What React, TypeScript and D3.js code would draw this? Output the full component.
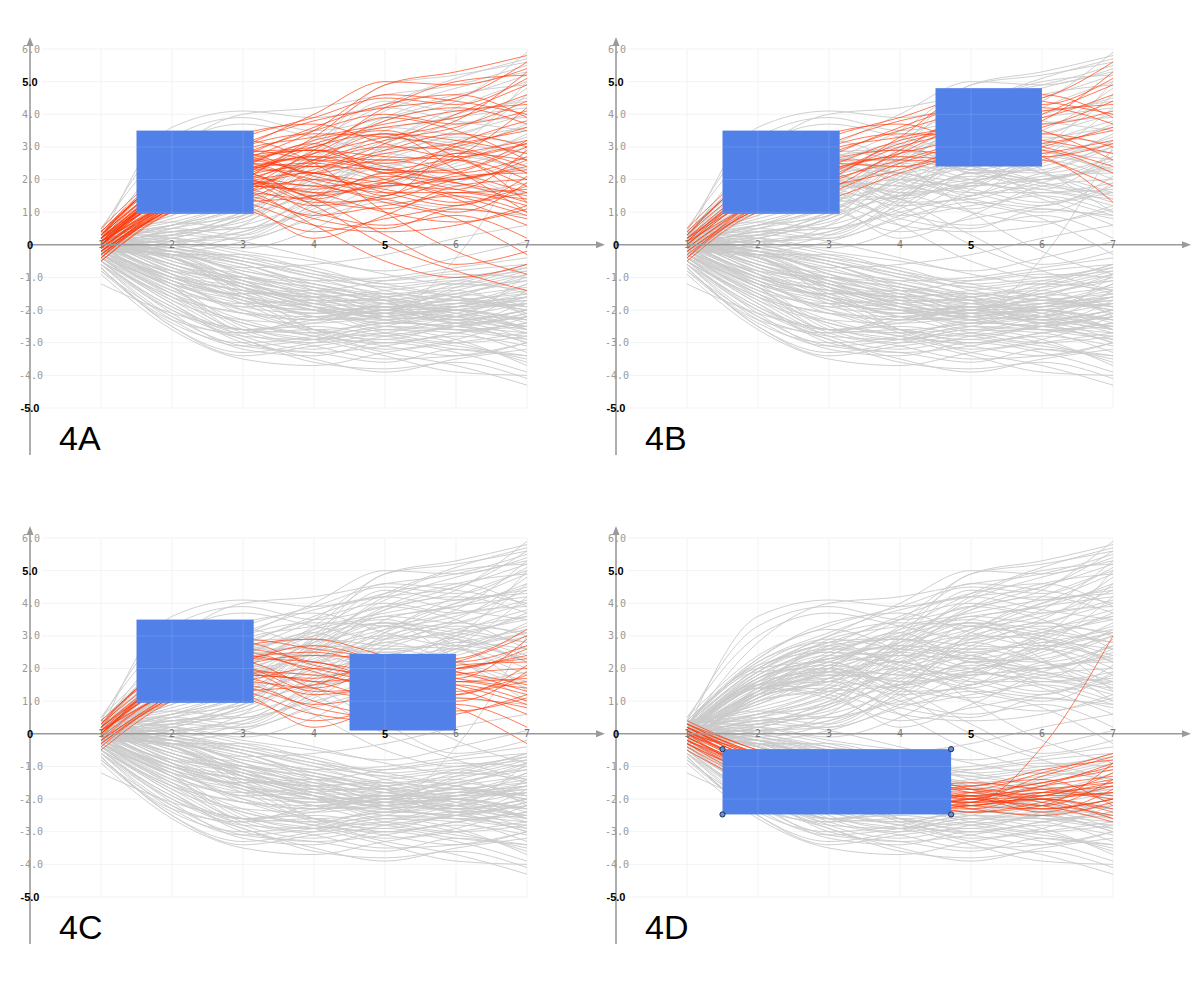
import React, { useEffect, useRef } from "react";
import * as d3 from "d3";

// time steps shared by every series
const xs = [1, 2, 3, 4, 5, 6, 7];

// climbs into the early box and stays high (upper late box)
const riseHigh = [
  [0.2, 1.6, 2.4, 3.2, 3.6, 3.9, 4.6],
  [-0.1, 1.3, 2.1, 3.0, 3.4, 3.2, 2.8],
  [0.4, 2.2, 3.1, 3.8, 4.2, 4.5, 5.6],
  [-0.3, 1.1, 1.6, 2.5, 3.0, 2.9, 2.2],
  [0.1, 1.8, 2.6, 2.9, 2.7, 2.6, 1.3],
  [0.3, 2.0, 2.8, 3.5, 4.0, 3.7, 4.1],
  [-0.5, 1.0, 1.4, 2.2, 2.8, 3.1, 3.5],
  [0.0, 1.5, 2.0, 2.6, 3.2, 3.6, 4.4],
  [0.2, 1.9, 3.0, 3.4, 3.3, 3.0, 2.4],
  [-0.2, 1.2, 1.9, 2.8, 3.8, 4.2, 3.7],
  [0.5, 2.4, 3.3, 3.9, 4.5, 4.3, 5.1],
  [-0.4, 1.4, 2.3, 2.7, 2.6, 2.8, 3.2],
  [0.1, 1.7, 2.2, 3.1, 3.5, 2.7, 1.8],
  [0.3, 2.1, 2.5, 2.4, 2.9, 3.4, 3.0],
  [-0.1, 1.3, 1.8, 2.3, 3.1, 4.0, 4.9],
  [0.0, 1.6, 2.7, 3.6, 4.3, 4.6, 3.9],
  [0.1, 1.4, 2.9, 3.3, 3.7, 4.1, 4.3],
  [-0.2, 1.1, 1.7, 2.9, 3.9, 3.5, 2.6],
  [0.3, 2.3, 3.4, 3.7, 3.1, 2.7, 3.1],
  [0.0, 1.7, 2.3, 2.8, 3.3, 3.8, 5.3],
  [-0.4, 1.2, 2.0, 3.3, 4.6, 4.4, 4.0],
  [0.2, 1.5, 2.6, 2.6, 2.5, 3.0, 3.6],
];

// climbs into the early box then settles in the middle band
const riseMid = [
  [0.1, 1.5, 2.0, 1.6, 1.8, 2.0, 2.4],
  [-0.2, 1.2, 1.4, 0.9, 1.2, 1.5, 1.0],
  [0.3, 1.9, 2.6, 2.2, 1.9, 1.7, 2.9],
  [0.0, 1.4, 1.1, 0.4, 0.8, 1.2, 1.6],
  [-0.4, 1.0, 1.3, 1.5, 2.2, 2.3, 3.2],
  [0.2, 1.7, 2.3, 2.5, 2.0, 1.4, 0.6],
  [-0.1, 1.3, 1.7, 1.2, 1.5, 2.1, 2.2],
  [0.4, 2.1, 2.9, 2.6, 2.3, 1.9, 1.3],
  [0.0, 1.6, 1.9, 1.0, 0.6, 0.9, 0.2],
  [-0.3, 1.1, 1.6, 2.0, 1.7, 1.3, 1.8],
  [0.2, 1.8, 2.5, 1.9, 1.3, 0.8, -0.3],
  [0.1, 1.4, 1.2, 0.2, 0.9, 1.8, 2.0],
  [-0.2, 1.2, 2.1, 2.4, 2.3, 2.2, 2.7],
  [0.3, 2.0, 2.2, 1.4, 1.1, 1.6, 1.2],
  [0.0, 1.5, 1.8, 1.7, 2.1, 1.9, 1.5],
  [-0.5, 1.0, 1.5, 0.8, 0.5, 1.1, 0.8],
  [0.2, 1.7, 2.7, 2.9, 2.4, 2.0, 2.6],
  [0.1, 1.3, 1.9, 1.8, 1.4, 1.0, 1.9],
  [0.0, 1.6, 2.4, 2.0, 1.6, 1.6, 1.7],
  [0.2, 1.9, 2.0, 1.3, 1.4, 2.0, 2.3],
  [-0.3, 1.1, 1.8, 1.6, 1.0, 0.7, 1.1],
  [0.1, 1.3, 2.2, 2.7, 2.2, 1.7, 1.4],
  [-0.1, 1.5, 1.3, 0.6, 0.4, 0.6, 1.2],
  [0.3, 2.2, 2.8, 2.1, 1.8, 2.2, 3.0],
  [0.0, 1.4, 1.6, 1.4, 1.9, 1.5, 0.9],
  [-0.2, 1.2, 2.3, 2.2, 1.6, 1.2, 2.1],
];

// climbs into the early box, then leaves both late bands
const riseOther = [
  [0.2, 1.8, 2.6, 3.5, 4.9, 5.3, 5.8],
  [0.0, 1.4, 2.0, 1.2, 0.0, -0.8, -1.4],
  [-0.3, 1.2, 1.6, 0.6, -0.5, -1.0, -0.6],
  [0.3, 2.0, 3.0, 4.0, 5.0, 4.9, 5.4],
  [0.1, 1.6, 2.1, 1.8, 2.0, 3.1, 3.8],
  [-0.1, 1.3, 2.4, 3.1, 2.2, 2.7, 4.2],
  [0.4, 2.3, 3.2, 2.5, 1.0, -0.2, -0.9],
  [0.0, 1.5, 1.7, 2.6, 3.4, 2.3, 1.0],
  [0.2, 1.9, 2.8, 3.0, 4.2, 5.0, 5.2],
  [-0.2, 1.1, 1.9, 2.2, 1.5, 2.8, 2.6],
  [0.1, 1.7, 2.2, 1.5, 1.9, 2.6, 3.1],
  [-0.1, 1.3, 2.5, 2.9, 2.3, 2.6, 2.0],
  [0.2, 2.0, 2.7, 2.2, 2.6, 2.2, 1.6],
  [0.0, 1.2, 1.9, 1.4, 0.3, -0.6, -0.2],
];

// falls into the low band and stays there
const dropBand = [
  [0.1, -0.9, -1.4, -1.6, -1.8, -1.5, -1.0],
  [-0.2, -1.2, -1.8, -2.0, -2.1, -2.0, -2.4],
  [0.3, -0.6, -1.0, -1.3, -1.7, -1.2, -0.6],
  [0.0, -1.0, -1.6, -1.9, -2.3, -2.5, -2.1],
  [-0.4, -1.5, -2.1, -2.2, -2.0, -1.6, -1.3],
  [0.2, -0.8, -1.2, -1.7, -1.9, -1.8, -1.6],
  [-0.1, -1.1, -1.5, -1.5, -2.0, -2.2, -2.7],
  [0.4, -0.5, -0.9, -1.4, -1.6, -1.1, -0.8],
  [-0.3, -1.3, -2.0, -2.3, -2.2, -1.9, -1.5],
  [0.1, -0.9, -1.3, -1.8, -2.1, -0.4, 3.0],
  [0.0, -1.2, -1.7, -2.1, -1.9, -2.3, -2.0],
  [-0.2, -1.0, -1.4, -1.6, -1.5, -1.7, -1.9],
  [0.2, -0.7, -1.1, -1.5, -2.0, -1.9, -1.2],
  [-0.5, -1.6, -2.3, -2.4, -2.2, -2.0, -1.8],
  [0.3, -0.7, -1.5, -2.0, -2.4, -2.2, -0.9],
  [-0.1, -1.1, -1.9, -1.8, -1.6, -1.4, -2.2],
  [0.0, -0.8, -1.0, -1.2, -1.7, -2.1, -2.5],
  [0.1, -1.0, -1.6, -2.2, -2.3, -1.8, -1.4],
  [-0.3, -1.4, -1.8, -1.7, -1.9, -2.4, -1.7],
  [0.2, -0.6, -1.3, -1.9, -2.0, -1.3, -0.7],
  [0.0, -0.9, -1.7, -2.0, -1.9, -1.7, -1.5],
  [0.2, -0.7, -1.2, -1.6, -2.2, -2.3, -2.0],
  [-0.2, -1.3, -1.9, -2.1, -1.8, -1.5, -1.1],
  [0.3, -0.5, -1.1, -1.8, -2.1, -2.0, -2.3],
  [-0.1, -1.0, -1.4, -1.9, -2.4, -2.1, -1.6],
  [0.1, -0.8, -1.6, -2.3, -2.1, -1.6, -0.9],
  [-0.3, -1.2, -1.5, -1.4, -1.8, -2.0, -2.6],
  [0.0, -0.6, -1.3, -1.7, -1.7, -1.9, -1.8],
  [0.2, -0.9, -2.1, -2.3, -2.0, -2.2, -1.4],
  [-0.2, -1.1, -1.6, -2.0, -2.2, -1.8, -2.0],
];

// upper series that rise late or overshoot early
const upperGray = [
  [0.3, 0.6, 1.2, 2.5, 3.8, 4.4, 5.9],
  [0.0, 0.4, 0.7, 1.8, 3.0, 3.5, 4.8],
  [0.2, 2.8, 4.0, 4.2, 4.6, 4.9, 5.5],
  [-0.1, 0.2, 0.9, 2.9, 4.4, 4.1, 4.5],
  [0.4, 3.3, 3.9, 3.5, 3.9, 4.5, 5.2],
  [0.1, 0.5, 0.3, 1.4, 2.6, 3.2, 3.6],
  [-0.2, 0.0, 0.6, 2.2, 3.3, 2.9, 2.2],
  [0.3, 0.8, 1.5, 3.0, 4.9, 5.2, 5.6],
  [0.0, 0.3, 0.2, 0.9, 1.9, 2.4, 3.0],
  [0.2, 0.7, 0.5, 1.6, 2.8, 2.2, 1.4],
  [-0.3, 0.1, 0.4, 1.0, 1.5, 1.9, 2.7],
  [0.1, 0.6, 1.3, 2.0, 3.5, 3.9, 4.2],
  [0.5, 3.0, 3.7, 3.3, 2.9, 3.4, 4.0],
  [0.0, 0.2, -0.1, 0.5, 1.7, 2.6, 3.3],
  [-0.1, 0.5, 1.1, 1.9, 2.4, 3.0, 5.0],
  [0.2, 0.4, 0.8, 2.6, 3.9, 4.6, 4.9],
  [0.1, -0.1, 0.3, 1.2, 2.2, 1.8, 1.6],
  [0.3, 0.9, 1.7, 2.4, 2.0, 2.5, 3.4],
  [-0.2, -0.2, 0.1, 0.8, 1.3, 1.1, 0.9],
  [0.0, 0.3, 0.6, 1.4, 2.9, 3.7, 3.9],
  [0.4, 0.7, 1.4, 2.8, 4.1, 4.8, 5.3],
  [0.1, 0.1, 0.4, 1.5, 2.5, 2.0, 2.5],
  [0.2, 0.5, 1.0, 2.1, 3.2, 4.0, 4.4],
  [0.0, 0.2, 0.8, 1.7, 2.7, 3.3, 3.1],
  [0.3, 0.6, 0.9, 2.4, 3.6, 3.4, 4.6],
  [-0.1, 0.4, 0.5, 1.1, 2.3, 2.9, 3.7],
  [0.1, 3.6, 4.1, 3.9, 4.2, 3.8, 3.5],
  [0.2, 0.3, 1.0, 2.0, 2.4, 1.6, 1.9],
  [0.0, 0.1, 0.2, 1.3, 3.1, 4.2, 5.0],
  [-0.2, 0.3, 0.9, 1.5, 1.8, 2.7, 2.3],
  [0.1, 0.6, 1.2, 2.7, 3.4, 3.1, 2.8],
  [0.4, 0.9, 2.0, 3.2, 4.3, 5.1, 5.7],
];

// lower series that leave the low band somewhere
const lowerGray = [
  [-0.2, -0.3, -0.8, -1.2, -1.5, -1.3, -1.1],
  [0.0, -0.2, -0.5, -0.9, -1.2, -1.6, -2.0],
  [-0.4, -1.8, -2.7, -2.6, -3.0, -2.8, -3.1],
  [-0.6, -2.2, -3.1, -3.3, -3.6, -3.2, -3.5],
  [0.1, -0.4, -1.0, -1.6, -2.2, -2.6, -2.9],
  [-0.3, -1.5, -2.4, -2.8, -3.3, -3.7, -4.3],
  [0.2, -0.1, -0.6, -1.1, -1.0, -0.7, -0.4],
  [-0.5, -2.0, -2.9, -3.5, -3.9, -3.5, -3.2],
  [-0.1, -0.3, -1.2, -1.8, -1.9, -1.4, -0.9],
  [-0.7, -2.5, -3.3, -3.0, -2.6, -2.9, -3.7],
  [0.0, -0.6, -1.3, -2.6, -2.9, -2.4, -2.0],
  [-0.2, -1.0, -1.8, -2.7, -3.1, -3.4, -3.0],
  [0.3, 0.0, -0.4, -0.9, -1.3, -1.1, -1.5],
  [-0.9, -2.6, -3.5, -3.7, -3.3, -3.0, -2.7],
  [-0.3, -1.3, -2.6, -2.4, -2.0, -2.3, -2.6],
  [0.1, -0.2, -0.9, -1.5, -1.8, -2.1, -2.3],
  [-0.5, -1.7, -2.8, -3.2, -2.8, -2.5, -2.2],
  [-1.2, -2.1, -2.6, -2.9, -3.4, -3.9, -4.0],
  [0.2, -0.3, -0.3, -0.8, -1.4, -1.7, -1.2],
  [-0.4, -1.6, -2.1, -2.6, -2.4, -2.0, -1.7],
  [0.0, -0.4, -1.1, -1.4, -1.1, -0.8, -0.6],
  [-0.6, -1.9, -2.8, -2.9, -2.6, -2.7, -3.3],
  [-0.1, -0.35, -1.6, -2.2, -2.7, -3.0, -2.8],
  [0.1, -0.1, -0.5, -1.0, -1.6, -2.2, -2.5],
  [-0.3, -1.4, -2.3, -2.7, -2.5, -1.9, -1.6],
  [-0.8, -2.4, -3.0, -2.8, -2.3, -2.2, -2.6],
  [0.2, -0.2, -0.7, -0.6, -0.3, 0.2, 0.6],
  [-0.2, -0.4, -1.4, -2.0, -2.5, -2.6, -2.4],
  [0.4, 0.2, -0.2, -0.5, -0.8, -0.4, 0.1],
  [-0.5, -2.1, -3.2, -3.4, -3.0, -3.3, -3.9],
  [-0.1, -0.9, -1.7, -2.6, -3.2, -2.9, -2.2],
  [0.0, -0.3, -0.6, -1.3, -1.7, -1.5, -1.9],
  [-0.7, -2.3, -2.7, -2.2, -2.1, -2.4, -3.0],
  [0.3, 0.4, 0.1, -0.4, -0.9, -1.2, -0.8],
  [-0.1, -0.2, -0.9, -1.7, -2.3, -2.5, -2.7],
  [-0.4, -1.3, -2.6, -3.0, -2.7, -2.4, -2.9],
  [0.1, -0.3, -1.0, -1.3, -1.6, -1.9, -1.6],
  [-0.6, -2.0, -2.6, -2.5, -2.8, -3.1, -3.4],
  [0.0, -0.4, -1.5, -2.1, -2.0, -1.7, -2.1],
  [-0.3, -1.6, -2.7, -3.1, -3.5, -3.4, -3.0],
  [0.2, -0.1, -0.4, -0.7, -1.2, -1.0, -0.7],
  [-0.5, -1.8, -3.0, -3.3, -3.1, -2.7, -2.5],
  [-0.2, -0.3, -1.1, -1.9, -2.6, -2.2, -1.8],
  [-0.8, -2.2, -2.9, -3.6, -3.8, -3.6, -4.1],
  [0.1, -0.2, -0.6, -1.2, -1.7, -2.4, -2.2],
  [-0.4, -1.5, -2.6, -2.3, -1.9, -2.0, -2.3],
  [0.0, -0.4, -1.2, -1.6, -1.4, -1.2, -1.4],
  [-0.6, -2.3, -3.1, -2.9, -2.5, -2.6, -2.8],
  [-0.1, -0.3, -0.7, -1.4, -2.1, -2.3, -2.0],
  [-0.3, -1.2, -2.5, -2.9, -2.7, -3.0, -3.6],
  [0.3, 0.1, -0.3, -0.8, -1.1, -0.9, -1.0],
  [-0.2, -1.1, -2.0, -2.6, -2.8, -2.5, -2.1],
  [-0.7, -2.5, -3.4, -3.1, -2.9, -3.2, -3.4],
  [0.0, -0.2, -0.8, -1.1, -1.5, -1.8, -1.7],
  [-0.4, -1.7, -2.4, -2.8, -3.0, -2.7, -2.4],
  [0.1, -0.4, -1.3, -1.9, -2.2, -2.0, -2.6],
  [-0.5, -1.9, -2.6, -2.7, -2.4, -2.5, -3.0],
  [0.2, 0.0, -0.5, -1.0, -1.3, -1.6, -1.9],
];

const allSeries = [...lowerGray, ...upperGray, ...dropBand, ...riseOther, ...riseMid, ...riseHigh];

const yTicks = [6, 5, 4, 3, 2, 1, -1, -2, -3, -4, -5];
const boldY = [5, -5];
const xTicks = [1, 2, 3, 4, 5, 6, 7];
const boldX = [5];

type Box = { x0: number; x1: number; y0: number; y1: number };
const boxEarly: Box = { x0: 1.5, x1: 3.15, y0: 0.95, y1: 3.5 };
const boxHigh: Box = { x0: 4.5, x1: 6.0, y0: 2.4, y1: 4.8 };
const boxMid: Box = { x0: 4.5, x1: 6.0, y0: 0.1, y1: 2.45 };
const boxLow: Box = { x0: 1.5, x1: 4.72, y0: -2.47, y1: -0.47 };

const panels = [
  { label: "4A", dx: 0, dy: 0, boxes: [boxEarly], handles: false },
  { label: "4B", dx: 586, dy: 0, boxes: [boxEarly, boxHigh], handles: false },
  { label: "4C", dx: 0, dy: 489, boxes: [boxEarly, boxMid], handles: false },
  { label: "4D", dx: 586, dy: 489, boxes: [boxLow], handles: true },
];

const AXIS = "#9a9a9a";
const GRAY = "#cacaca";
const RED = "#ff3a0a";
const BLUE = "#5080e8";
const MONO = "'DejaVu Sans Mono', monospace";
const SANS = "'Liberation Sans', Arial, sans-serif";

const inBox = (s: number[], b: Box) =>
  xs.every((xv, i) => xv < b.x0 || xv > b.x1 || (s[i] >= b.y0 && s[i] <= b.y1));

const TimeBoxes = () => {
  const ref = useRef<SVGSVGElement | null>(null);

  useEffect(() => {
    if (!ref.current) return;
    const svg = d3.select(ref.current);
    svg.selectAll("*").remove();

    const x = d3.scaleLinear().domain([0, 7]).range([30, 527]);
    const y = d3.scaleLinear().domain([-5, 6]).range([408, 49]);
    const line = d3
      .line<number>()
      .x((_, i) => x(xs[i]))
      .y((d) => y(d))
      .curve(d3.curveMonotoneX);

    panels.forEach((p, pi) => {
      const g = svg.append("g").attr("transform", `translate(${p.dx},${p.dy})`);

      const drawGrid = (parent: any, stroke: string, opacity: number) => {
        const grid = parent.append("g").attr("stroke", stroke).attr("stroke-opacity", opacity).attr("stroke-width", 1);
        yTicks.forEach((t) => {
          grid.append("line").attr("x1", x(0) + 12).attr("x2", x(7)).attr("y1", y(t)).attr("y2", y(t));
        });
        xTicks.forEach((t) => {
          grid.append("line").attr("x1", x(t)).attr("x2", x(t)).attr("y1", y(6)).attr("y2", y(-5));
        });
        return grid;
      };

      drawGrid(g, "#f3f3f3", 1);

      const hits = (s: number[]) => p.boxes.every((b) => inBox(s, b));

      g.append("g")
        .selectAll("path")
        .data(allSeries.filter((s) => !hits(s)))
        .join("path")
        .attr("d", line)
        .attr("fill", "none")
        .attr("stroke", GRAY)
        .attr("stroke-width", 0.9);

      g.append("g")
        .selectAll("path")
        .data(allSeries.filter(hits))
        .join("path")
        .attr("d", line)
        .attr("fill", "none")
        .attr("stroke", RED)
        .attr("stroke-opacity", 0.8)
        .attr("stroke-width", 0.85);

      const clip = g.append("clipPath").attr("id", `boxclip-${pi}`);
      p.boxes.forEach((b) => {
        const r = {
          x: x(b.x0),
          y: y(b.y1),
          width: x(b.x1) - x(b.x0),
          height: y(b.y0) - y(b.y1),
        };
        g.append("rect").attr("x", r.x).attr("y", r.y).attr("width", r.width).attr("height", r.height).attr("fill", BLUE);
        clip.append("rect").attr("x", r.x).attr("y", r.y).attr("width", r.width).attr("height", r.height);
      });

      // faint grid showing through the boxes
      drawGrid(g.append("g").attr("clip-path", `url(#boxclip-${pi})`), "#ffffff", 0.12);

      // axes
      g.append("line")
        .attr("x1", x(0)).attr("x2", x(0))
        .attr("y1", 44).attr("y2", 455)
        .attr("stroke", AXIS).attr("stroke-width", 1.6);
      g.append("path")
        .attr("d", `M${x(0)},37 L${x(0) - 3.5},46 L${x(0) + 3.5},46 Z`)
        .attr("fill", AXIS);
      g.append("line")
        .attr("x1", x(0)).attr("x2", 598)
        .attr("y1", y(0)).attr("y2", y(0))
        .attr("stroke", AXIS).attr("stroke-width", 1.6);
      g.append("path")
        .attr("d", `M605,${y(0)} L596,${y(0) - 3.5} L596,${y(0) + 3.5} Z`)
        .attr("fill", AXIS);

      yTicks.forEach((t) => {
        const bold = boldY.includes(t);
        g.append("text")
          .attr("x", x(0) + (bold ? 0 : 1))
          .attr("y", y(t))
          .attr("text-anchor", "middle")
          .attr("dominant-baseline", "central")
          .attr("fill", bold ? "#000" : "#999")
          .style("font-family", bold ? SANS : MONO)
          .style("font-weight", bold ? "bold" : "normal")
          .style("font-size", bold ? "11px" : "10px")
          .text(t.toFixed(1));
      });

      xTicks.forEach((t) => {
        const bold = boldX.includes(t);
        g.append("text")
          .attr("x", x(t))
          .attr("y", y(0))
          .attr("text-anchor", "middle")
          .attr("dominant-baseline", "central")
          .attr("fill", bold ? "#000" : "#777")
          .style("font-family", bold ? SANS : MONO)
          .style("font-weight", bold ? "bold" : "normal")
          .style("font-size", bold ? "11px" : "10px")
          .text(t);
      });

      g.append("text")
        .attr("x", x(0))
        .attr("y", y(0))
        .attr("text-anchor", "middle")
        .attr("dominant-baseline", "central")
        .attr("fill", "#000")
        .style("font-family", SANS)
        .style("font-weight", "bold")
        .style("font-size", "11px")
        .text("0");

      if (p.handles) {
        p.boxes.forEach((b) => {
          [[b.x0, b.y0], [b.x0, b.y1], [b.x1, b.y0], [b.x1, b.y1]].forEach(([cx, cy]) => {
            g.append("circle")
              .attr("cx", x(cx))
              .attr("cy", y(cy))
              .attr("r", 2.6)
              .attr("fill", "#6b8fd6")
              .attr("stroke", "#1f2d4d")
              .attr("stroke-width", 1);
          });
        });
      }

      g.append("text")
        .attr("x", 59)
        .attr("y", 450)
        .attr("fill", "#000")
        .style("font-family", SANS)
        .style("font-size", "34px")
        .text(p.label);
    });
  }, []);

  return (
    <svg
      ref={ref}
      width={1200}
      height={982}
      style={{ position: "absolute", left: 0, top: 0, background: "#fff" }}
    ></svg>
  );
};

export default function App() {
  return <TimeBoxes />;
}
